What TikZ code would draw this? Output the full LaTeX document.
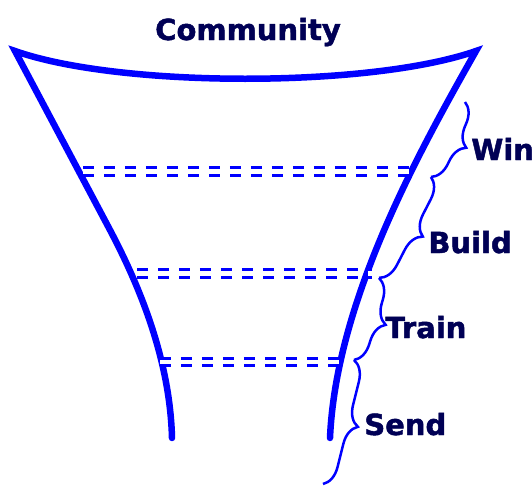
\documentclass[tikz,border=0pt]{standalone}
\usepackage{fontspec}
\newfontfamily\stagefont{DejaVu Sans}[BoldFeatures={FakeBold=1.6}]
\usetikzlibrary{decorations.pathreplacing}
\definecolor{funnelblue}{RGB}{0,0,255}
\definecolor{labelnavy}{RGB}{0,0,85}
\tikzset{
	funnel/.style={line width=0.13cm, color=funnelblue, line cap=round, line join=miter},
	rung/.style={line width=0.058cm, color=funnelblue, double=white, double distance=0.085cm, dash pattern=on 0.22cm off 0.2cm},
	stagebrace/.style={line width=0.05cm, color=funnelblue, decorate, decoration={brace, amplitude=0.4cm}},
	stagelabel/.style={anchor=base west, inner sep=0pt, text=labelnavy, font=\stagefont\bfseries\fontsize{16.5}{18}\selectfont}
}

\begin{document}
\begin{tikzpicture}[x=0.02cm, y=0.02cm]
			%%%%% START %%%%%
			\useasboundingbox (0, 0) rectangle (532, -487);
			
			\node[stagelabel, anchor=base] (community) at (248, -40) {Community};
			
			% funnel outline
			\draw[funnel] (172, -438) .. controls (170, -360) and (140, -287) .. (110, -230)
				-- (15, -51) .. controls (120, -88) and (370, -88) .. (476, -51)
				.. controls (420, -150) and (336, -300) .. (330, -438);
			
			% stage borders
			\draw[rung] (83, -171.5) -- (412, -171.5);
			\draw[rung] (137, -273.5) -- (372, -273.5);
			\draw[rung] (160, -362) -- (343, -362);
			
			% braces
			\coordinate (p0) at (465, -102);
			\coordinate (p1) at (431, -177);
			\coordinate (p2) at (379, -278);
			\coordinate (p3) at (354, -360);
			\coordinate (p4) at (323, -484);
			\draw[stagebrace] (p0) -- (p1);
			\draw[stagebrace] (p1) -- (p2);
			\draw[stagebrace] (p2) -- (p3);
			\draw[stagebrace] (p3) -- (p4);
			
			\node[stagelabel] (win) at (471, -160) {Win};
			\node[stagelabel] (build) at (428, -253) {Build};
			\node[stagelabel] (train) at (385, -338) {Train};
			\node[stagelabel] (send) at (364, -435) {Send};
			
			%%%%% END %%%%%
\end{tikzpicture}
\end{document}
